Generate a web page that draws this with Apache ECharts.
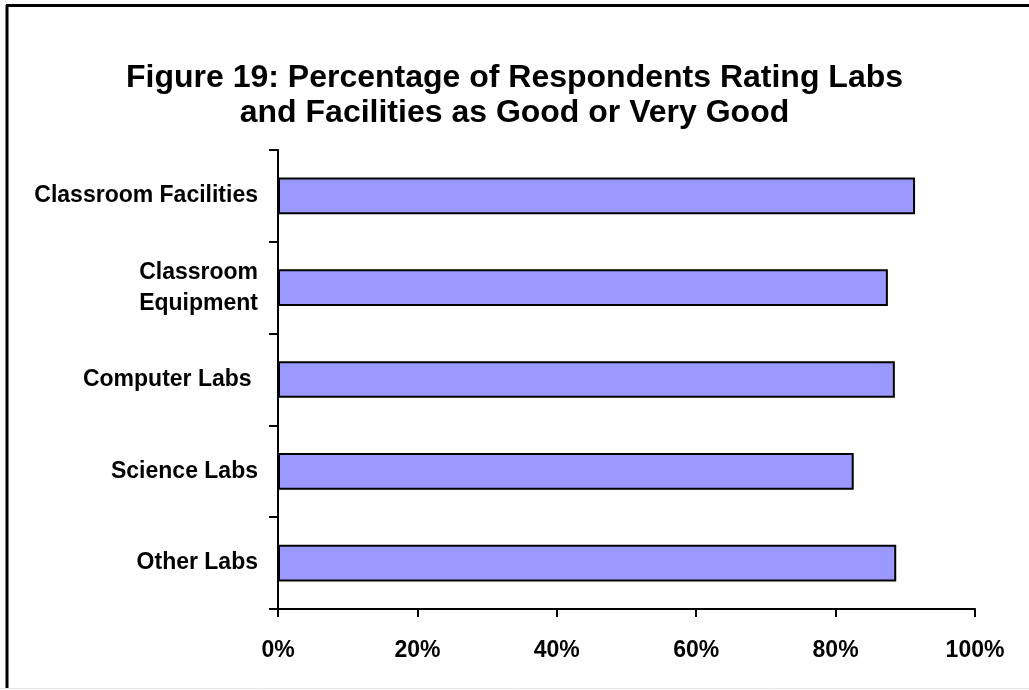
<!DOCTYPE html>
<html>
<head>
<meta charset="utf-8">
<script src="https://cdn.jsdelivr.net/npm/echarts@6/dist/echarts.min.js"></script>
<style>
  html, body { margin: 0; padding: 0; background: #fff; }
  #chart { width: 1029px; height: 690px; }
</style>
</head>
<body>
<div id="chart"></div>
<script>
// Facility categories, top to bottom
const categories = [
  'Classroom Facilities',
  'Classroom\nEquipment',
  'Computer Labs ',
  'Science Labs',
  'Other Labs'
];
// Share of respondents rating each as good or very good (%)
const goodShare = [91.4, 87.5, 88.5, 82.6, 88.7];
// Percentage axis ticks
const xTicks = [0, 20, 40, 60, 80, 100];

const FONT = '"Liberation Sans", Arial, sans-serif';

const chart = echarts.init(document.getElementById('chart'), null, { renderer: 'canvas' });

chart.setOption({
  backgroundColor: '#ffffff',
  animation: false,
  title: {
    text: 'Figure 19: Percentage of Respondents Rating Labs\nand Facilities as Good or Very Good',
    left: 'center',
    top: 56,
    textStyle: {
      fontFamily: FONT,
      fontWeight: 'bold',
      fontSize: 32,
      lineHeight: 35,
      color: '#000',
      align: 'center'
    }
  },
  graphic: [
    { type: 'line', shape: { x1: 6, y1: 5.5, x2: 1029, y2: 5.5 }, style: { stroke: '#000', lineWidth: 3 } },
    { type: 'line', shape: { x1: 7, y1: 5, x2: 7, y2: 688 }, style: { stroke: '#000', lineWidth: 3 } },
    { type: 'line', shape: { x1: 0, y1: 688.5, x2: 1029, y2: 688.5 }, style: { stroke: '#e6e6e6', lineWidth: 1 } }
  ],
  grid: { left: 278, right: 54, top: 150, bottom: 81, containLabel: false },
  xAxis: {
    type: 'value',
    min: xTicks[0],
    max: xTicks[xTicks.length - 1],
    interval: xTicks[1] - xTicks[0],
    splitLine: { show: false },
    axisLine: { show: true, lineStyle: { color: '#000', width: 2 } },
    axisTick: { show: true, length: 8, lineStyle: { color: '#000', width: 2 } },
    axisLabel: {
      formatter: '{value}%',
      margin: 30,
      color: '#000',
      fontFamily: FONT,
      fontWeight: 'bold',
      fontSize: 23
    }
  },
  yAxis: {
    type: 'category',
    data: categories,
    inverse: true,
    axisLine: { show: true, lineStyle: { color: '#000', width: 2 } },
    axisTick: { show: true, length: 9, alignWithLabel: false, lineStyle: { color: '#000', width: 2 } },
    axisLabel: {
      margin: 20,
      color: '#000',
      fontFamily: FONT,
      fontWeight: 'bold',
      fontSize: 23,
      lineHeight: 31,
      align: 'right'
    }
  },
  series: [{
    type: 'bar',
    data: goodShare,
    barCategoryGap: '60%',
    itemStyle: { color: '#9999ff', borderColor: '#000', borderWidth: 2 },
    emphasis: { disabled: true }
  }]
});
</script>
</body>
</html>
